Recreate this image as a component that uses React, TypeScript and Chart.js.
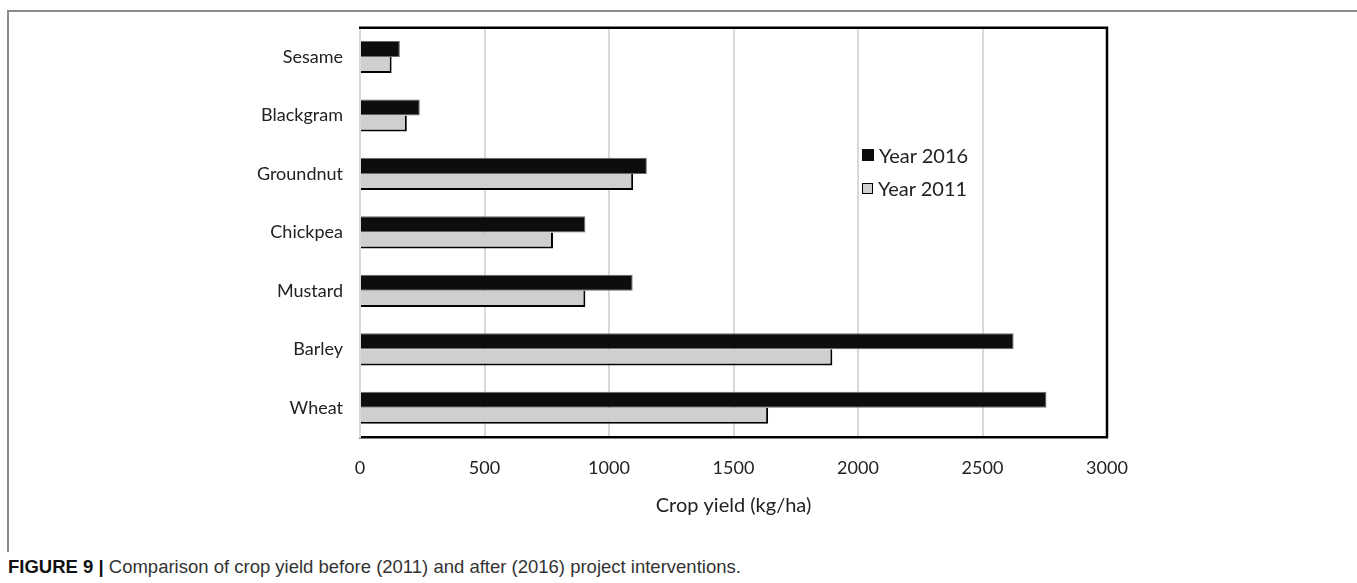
import React, { useEffect, useRef } from "react";
import { Chart, registerables } from "chart.js";

Chart.register(...registerables);

const categories = ["Sesame", "Blackgram", "Groundnut", "Chickpea", "Mustard", "Barley", "Wheat"];
const values2016 = [160, 240, 1152, 905, 1095, 2625, 2757];
const values2011 = [127, 188, 1097, 775, 905, 1897, 1639];
const seriesNames = ["Year 2016", "Year 2011"];
const axisTitle = "Crop yield (kg/ha)";
const captionBold = "FIGURE 9 |";
const captionText = " Comparison of crop yield before (2011) and after (2016) project interventions.";

const W = 1357;
const H = 540;
const LEFT = 360;
const TOP = 27;
const BOTTOM = 437;
const RIGHT = 1107;

const borderPlugin = {
  id: "frameBorder",
  afterDraw(chart: any) {
    const { ctx, chartArea } = chart;
    ctx.save();
    ctx.strokeStyle = "#000";
    ctx.lineWidth = 2.5;
    ctx.beginPath();
    ctx.moveTo(chartArea.left - 1, chartArea.top);
    ctx.lineTo(chartArea.right, chartArea.top);
    ctx.lineTo(chartArea.right, chartArea.bottom + 1);
    ctx.stroke();
    ctx.restore();
  },
};

export default function App() {
  const ref = useRef<HTMLCanvasElement>(null);
  useEffect(() => {
    const canvas = ref.current!;
    const chart = new Chart(canvas, {
      type: "bar",
      data: {
        labels: categories,
        datasets: [
          {
            label: seriesNames[0],
            data: values2016,
            backgroundColor: "#0d0d0d",
            borderColor: "#6a6a6a",
            borderWidth: 1,
            borderSkipped: "start",
          },
          {
            label: seriesNames[1],
            data: values2011,
            backgroundColor: "#d0cece",
            borderColor: "#000",
            borderWidth: { top: 0, left: 0, right: 2, bottom: 2 },
            borderSkipped: false,
          },
        ],
      },
      options: {
        indexAxis: "y",
        responsive: false,
        animation: false,
        maintainAspectRatio: false,
        layout: { padding: { left: 0, top: TOP, right: W - RIGHT, bottom: H - 518 } },
        datasets: {
          bar: { categoryPercentage: 0.55, barPercentage: 1 },
        },
        plugins: {
          legend: { display: false },
          tooltip: { enabled: false },
        },
        scales: {
          x: {
            type: "linear",
            min: 0,
            max: 3000,
            ticks: {
              stepSize: 500,
              padding: 20,
              color: "#222",
              font: { family: "Lato", size: 18 },
              callback: (v: any) => String(v),
            },
            grid: { color: "#d9d9d9", lineWidth: 2, drawTicks: false },
            border: { display: true, color: "#000", width: 2.5 },
            title: {
              display: true,
              text: axisTitle,
              color: "#222",
              font: { family: "Lato", size: 20 },
              padding: { top: 0, bottom: 0 },
            },
            afterFit(scale: any) {
              scale.height = 518 - BOTTOM;
            },
          },
          y: {
            type: "category",
            ticks: {
              padding: 17,
              color: "#222",
              font: { family: "Lato", size: 18 },
            },
            grid: { display: false, drawTicks: false },
            border: { display: true, color: "#d9d9d9", width: 2 },
            afterFit(scale: any) {
              scale.width = LEFT;
            },
          },
        },
      },
      plugins: [borderPlugin],
    } as any);
    return () => chart.destroy();
  }, []);

  return (
    <div style={{ position: "fixed", left: 0, top: 0, width: W, height: 583, background: "#fff", overflow: "hidden" }}>
      <div style={{ position: "absolute", left: 7, top: 10, width: W - 7, height: 2, background: "#8a8a8a" }} />
      <div style={{ position: "absolute", left: 7, top: 10, width: 2, height: 542, background: "#8a8a8a" }} />
      <canvas ref={ref} width={W} height={H} style={{ position: "absolute", left: 0, top: 0, width: W, height: H }} />
      <div style={{ position: "absolute", left: 862, top: 143, display: "flex", alignItems: "center", fontFamily: "Lato", fontSize: 20, color: "#222" }}>
        <div style={{ width: 12, height: 12, background: "#0d0d0d", marginRight: 5 }} />
        <span>{seriesNames[0]}</span>
      </div>
      <div style={{ position: "absolute", left: 862, top: 176, display: "flex", alignItems: "center", fontFamily: "Lato", fontSize: 20, color: "#222" }}>
        <div style={{ width: 9, height: 9, background: "#d0cece", border: "1.5px solid #000", marginRight: 5 }} />
        <span>{seriesNames[1]}</span>
      </div>
      <div style={{ position: "absolute", left: 8, top: 556, fontFamily: "Liberation Sans", fontSize: 18.5, color: "#333", whiteSpace: "nowrap" }}>
        <b style={{ color: "#111" }}>{captionBold}</b>
        <span>{captionText}</span>
      </div>
    </div>
  );
}
